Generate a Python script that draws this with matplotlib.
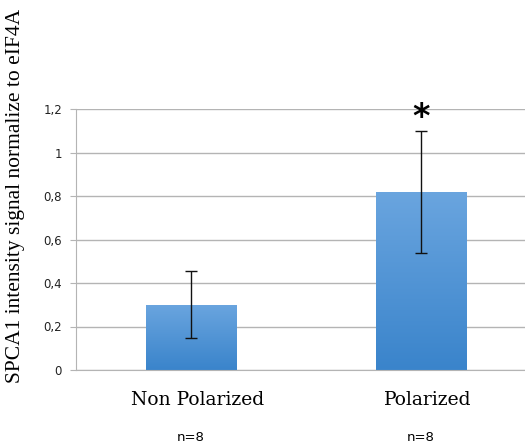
import matplotlib
matplotlib.use('Agg')
import matplotlib.pyplot as plt
import numpy as np
from matplotlib.colors import LinearSegmentedColormap

# dane
categories = ['Non Polarized', 'Polarized']
means = [0.30, 0.82]
errors = [0.155, 0.28]
n_labels = ['n=8', 'n=8']
yticks = [0, 0.2, 0.4, 0.6, 0.8, 1.0, 1.2]
ytick_labels = ['0', '0,2', '0,4', '0,6', '0,8', '1', '1,2']

fig = plt.figure(figsize=(5.25, 4.45), dpi=100)
ax = fig.add_axes([76/525, 75/445, 449/525, 261/445])

x = np.arange(len(categories))
bars = ax.bar(x, means, width=0.395, color='#4a90d6', zorder=2)

# gradient w slupkach
grad = np.linspace(0, 1, 256).reshape(-1, 1)
cmap = LinearSegmentedColormap.from_list('g', ['#3a84cb', '#6aa5df'])
for b in bars:
    x0, y0 = b.get_x(), b.get_y()
    im = ax.imshow(grad, cmap=cmap, origin='lower', aspect='auto',
                   extent=[x0, x0 + b.get_width(), y0, y0 + b.get_height()], zorder=2.5)
    im.set_clip_path(b)

ax.errorbar(x, means, yerr=errors, fmt='none', ecolor='#111111', elinewidth=1.0,
            capsize=4, capthick=1.0, zorder=3)

ax.set_xlim(-0.5, 1.452)
ax.set_ylim(0, 1.2)
ax.set_yticks(yticks)
ax.set_yticklabels(ytick_labels, fontsize=8.5, color='#222222')
ax.yaxis.grid(True, color='#b4b4b4', linewidth=1.0, zorder=0)
ax.set_axisbelow(True)
ax.tick_params(axis='y', length=4, color='#b4b4b4', pad=6)
ax.tick_params(axis='x', length=0)
ax.set_xticks([])
for s in ['top', 'right']:
    ax.spines[s].set_visible(False)
ax.spines['left'].set_color('#b4b4b4')
ax.spines['bottom'].set_color('#b4b4b4')

for xi, cat, nl in zip(x, categories, n_labels):
    ax.text(xi + 0.03, -0.14, cat, ha='center', va='center', fontsize=13.5,
            family='DejaVu Serif', clip_on=False)
    ax.text(xi, -0.31, nl, ha='center', va='center', fontsize=9.5,
            family='DejaVu Sans', clip_on=False)

ax.text(1, 1.16, '*', ha='center', va='center', fontsize=24, fontweight='bold')

fig.text(16/525, 1 - 196/445, 'SPCA1 intensity signal normalize to eIF4A', rotation=90,
         ha='center', va='center', fontsize=15.5, family='Liberation Serif')

fig.savefig('out.png', dpi=100)
